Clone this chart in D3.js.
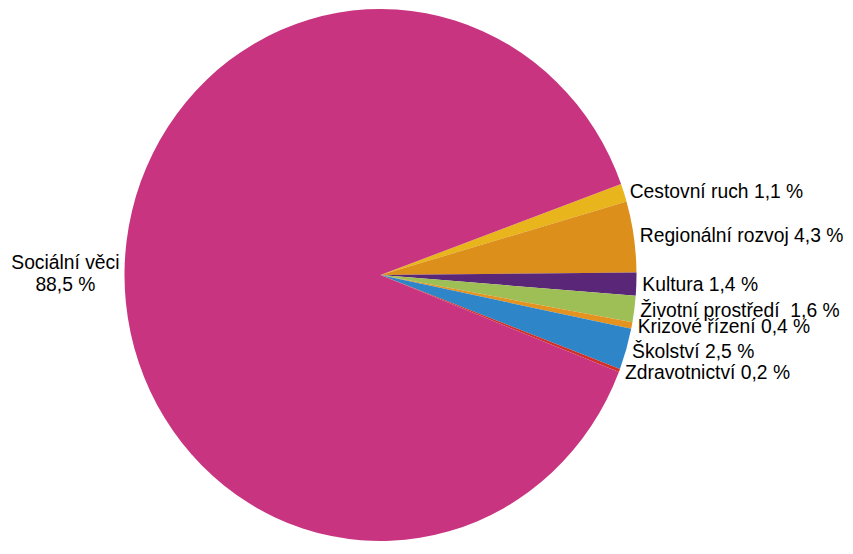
<!DOCTYPE html>
<html>
<head>
<meta charset="utf-8">
<script src="https://cdn.jsdelivr.net/npm/d3@7"></script>
<style>
  body { margin: 0; background: #fff; }
  text { font-family: "Liberation Sans", Arial, sans-serif; font-size: 19.3px; fill: #000; }
</style>
</head>
<body>
<div id="chart"></div>
<script>
// data, clockwise from the top edge of the small slices
const categories = ["Cestovní ruch", "Regionální rozvoj", "Kultura", "Životní prostředí ", "Krizové řízení", "Školství", "Zdravotnictví", "Sociální věci"];
const shares = [1.1, 4.3, 1.4, 1.6, 0.4, 2.5, 0.2, 88.5];
const valueLabels = ["1,1 %", "4,3 %", "1,4 %", "1,6 %", "0,4 %", "2,5 %", "0,2 %", "88,5 %"];
const colors = ["#e8b51c", "#dd8f1b", "#5a2678", "#9dbf55", "#e49320", "#2e86c8", "#cf3129", "#c8347f"];

const width = 853, height = 554;
const cx = 380.5, cy = 275, r = 256, ry = 266;
const start = 70 * Math.PI / 180;

const svg = d3.select("#chart")
    .append("svg")
    .attr("width", width)
    .attr("height", height);

const pie = d3.pie()
    .sort(null)
    .value(d => d)
    .startAngle(start)
    .endAngle(start + 2 * Math.PI);

const arcs = pie(shares);
const arc = d3.arc().innerRadius(0).outerRadius(r);

// pie is slightly taller than wide in the picture
svg.append("g")
    .attr("transform", `translate(${cx},${cy}) scale(1,${ry / r})`)
    .selectAll("path")
    .data(arcs)
    .enter()
    .append("path")
    .attr("d", arc)
    .attr("fill", (d, i) => colors[i]);

// labels just outside the rim at each slice's middle angle
const off = 6;
arcs.forEach((d, i) => {
    const a = (d.startAngle + d.endAngle) / 2;
    const x = cx + (r + off) * Math.sin(a);
    const y = cy - (ry + off) * Math.cos(a);
    if (Math.sin(a) >= 0) {
        svg.append("text")
            .attr("x", x)
            .attr("y", y)
            .attr("dy", "0.35em")
            .style("white-space", "pre")
            .text(categories[i] + " " + valueLabels[i]);
    } else {
        // two centred lines on the left side
        const t = svg.append("text")
            .attr("text-anchor", "middle");
        t.append("tspan").attr("x", 0).attr("y", y - 3).text(categories[i]);
        t.append("tspan").attr("x", 0).attr("y", y + 19).text(valueLabels[i]);
        const w = t.node().getBBox().width;
        t.selectAll("tspan").attr("x", x + 1 - w / 2);
    }
});
</script>
</body>
</html>
